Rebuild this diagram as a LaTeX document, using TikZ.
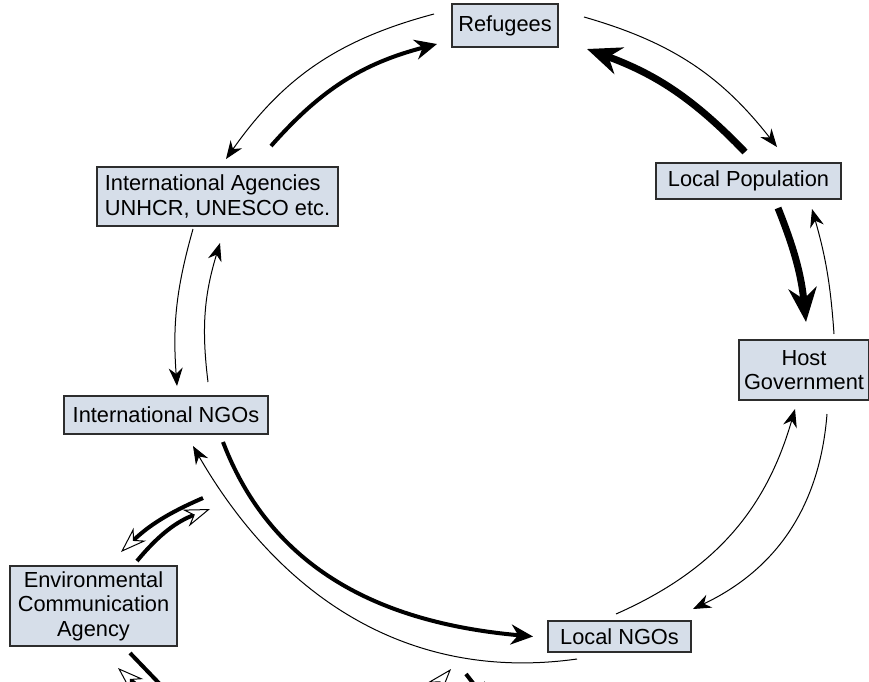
\documentclass[tikz,border=0pt]{standalone}
\usepackage{fontspec}
\setmainfont{Liberation Sans}
\usetikzlibrary{arrows.meta}
\definecolor{boxfill}{RGB}{214,222,233}
\definecolor{boxline}{RGB}{45,45,45}

\begin{document}
\begin{tikzpicture}[x=1pt, y=-1pt,
	box/.style={draw=boxline, fill=boxfill, line width=2pt, inner xsep=4pt, inner ysep=2pt, font={\fontsize{21.8}{24.5}\selectfont}},
	weak/.style={line width=1pt, -{Stealth[length=18pt, width=14pt]}},
	strong/.style={line width=4pt, -{Stealth[length=22pt, width=20pt]}},
	heavy/.style={line width=7pt, -{Stealth[length=34pt, width=28pt]}},
	hollow/.style={line width=4pt, -{Stealth[open, fill=white, line width=1pt, length=26pt, width=18pt]}}]
	\useasboundingbox[fill=white] (0, 0) rectangle (869, 681);
	\clip (0, 0) rectangle (869, 681);

	\node[box, minimum width=106pt, minimum height=43pt] (ref) at (505, 25.5) {Refugees};
	\node[box, minimum width=185pt, minimum height=36pt] (lpop) at (748.5, 181) {Local Population};
	\node[box, minimum width=241pt, minimum height=59pt, align=left] (agen) at (217.5, 196.5) {International Agencies\\UNHCR, UNESCO etc.};
	\node[box, minimum width=204pt, minimum height=38pt] (ingo) at (166, 415) {International NGOs};
	\node[box, minimum width=130pt, minimum height=60pt, align=center] (host) at (804, 370) {Host\\Government};
	\node[box, minimum width=167pt, minimum height=80pt, align=center] (env) at (93.5, 606) {Environmental\\Communication\\Agency};
	\node[box, minimum width=143pt, minimum height=31pt] (lngo) at (619.5, 636.5) {Local NGOs};

	\coordinate (envlow1) at (180, 705);
	\coordinate (envlow2) at (158, 705);
	\coordinate (ngolow1) at (420, 705);
	\coordinate (ngolow2) at (490, 705);

	\path[weak] ([shift={(-17,-11.5)}]ref.west) edge[bend right=20] ([shift={(8.5,-7)}]agen.north);
	\path[strong] ([shift={(53.5,-20)}]agen.north) edge[bend left=17] ([shift={(-14,-4)}]ref.south west);
	\path[weak] ([shift={(25,-8.5)}]ref.east) edge[bend left=18] ([shift={(28.5,-15)}]lpop.north);
	\path[heavy] ([shift={(-3.5,-10)}]lpop.north) edge[bend right=13] ([shift={(28,1)}]ref.south east);
	\path[heavy] ([shift={(29.5,8)}]lpop.south) edge[bend left=8] ([shift={(2,-17)}]host.north);
	\path[weak] ([shift={(30,-5)}]host.north) edge[bend right=6] ([shift={(63.5,9)}]lpop.south);
	\path[weak] ([shift={(-3.5,-6)}]lngo.north) edge[bend right=25] ([shift={(-9,8)}]host.south);
	\path[weak] ([shift={(23,13)}]host.south) edge[bend left=30] ([shift={(1,-11)}]lngo.north east);
	\path[weak] ([shift={(-24.5,2)}]agen.south) edge[bend right=10] ([shift={(11,-9)}]ingo.north);
	\path[weak] ([shift={(42,-13)}]ingo.north) edge[bend left=12] ([shift={(2.5,16)}]agen.south);
	\path[strong] ([shift={(57,7)}]ingo.south) edge[out=-37, in=-153, relative] ([shift={(-14,0)}]lngo.west);
	\path[weak] ([shift={(-42.5,6)}]lngo.south) edge[out=37, in=149, relative] ([shift={(27,11)}]ingo.south);
	\path[hollow] ([shift={(37,63)}]ingo.south) edge[bend right=10] ([shift={(27.5,-13)}]env.north);
	\path[hollow] ([shift={(43.5,-4)}]env.north) edge[bend left=15] ([shift={(44,74)}]ingo.south);
	\path[strong] ([shift={(36.5,6)}]env.south) edge (envlow1);
	\path[hollow] (envlow2) edge ([shift={(24.5,21)}]env.south);
	\path[hollow] (ngolow1) edge ([shift={(-96,16)}]lngo.south west);
	\path[strong] ([shift={(-81,21)}]lngo.south west) edge (ngolow2);
\end{tikzpicture}
\end{document}
